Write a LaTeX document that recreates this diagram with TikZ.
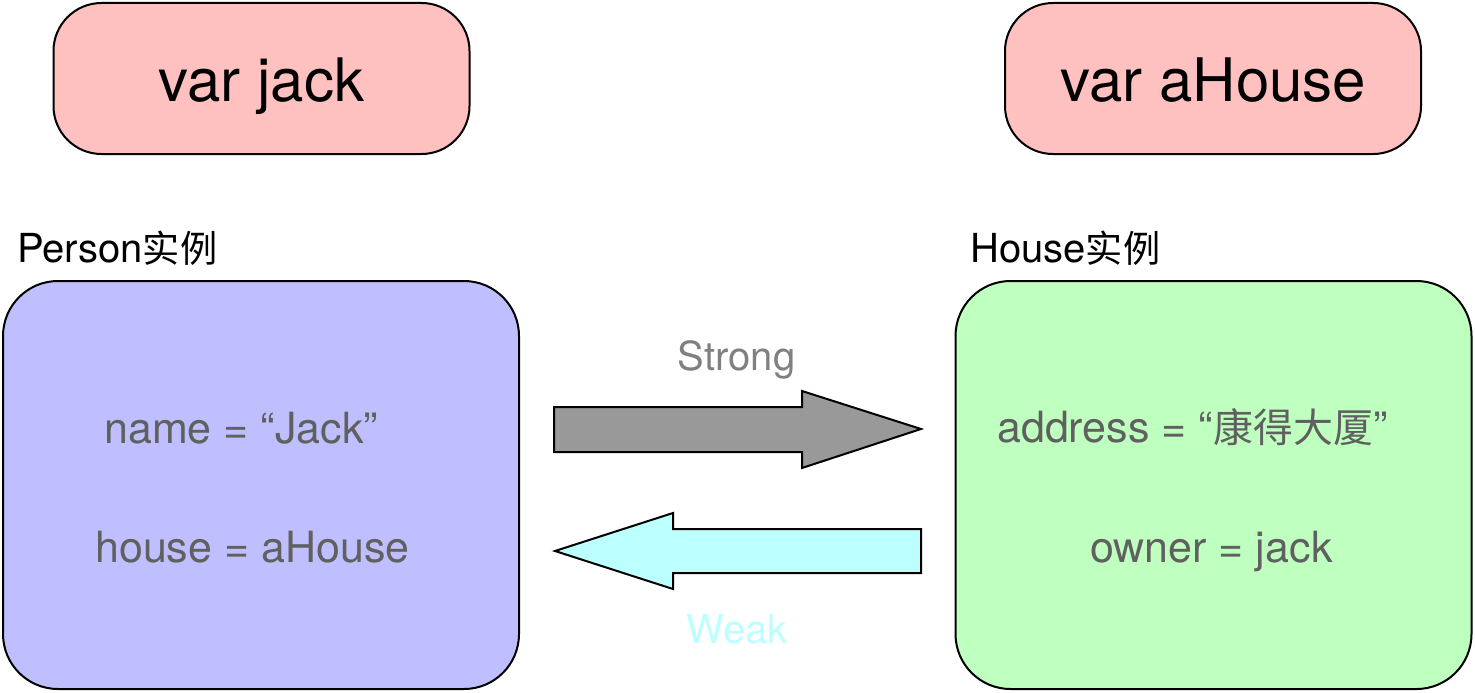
\documentclass[tikz,border=0pt]{standalone}
\usepackage{fontspec}
\setmainfont{TeX Gyre Heros}
\newfontfamily\cjk[Scale=0.93]{Noto Sans CJK SC}
\usetikzlibrary{positioning}
\definecolor{varpink}{RGB}{255,192,192}
\definecolor{personblue}{RGB}{191,191,255}
\definecolor{housegreen}{RGB}{191,255,191}
\definecolor{stronggray}{RGB}{153,153,153}
\definecolor{weakcyan}{RGB}{187,255,255}
\definecolor{fieldgray}{RGB}{96,96,96}
\definecolor{labelgray}{RGB}{128,128,128}
\tikzset{
  box/.style={draw,line width=2pt,inner sep=0pt},
  varbox/.style={box,fill=varpink,rounded corners=48pt,minimum width=416pt,minimum height=151pt},
  objbox/.style={box,rounded corners=55pt,minimum width=516pt,minimum height=408pt},
  field/.style={anchor=base west,inner sep=0pt,text=fieldgray,font=\fontsize{43}{48}\selectfont}
}
\begin{document}
\begin{tikzpicture}[x=1pt,y=-1pt]
\useasboundingbox (0,0) rectangle (1475,693);
\node[varbox] (jackvar) at (261.5,78.5) {};
\node[anchor=base,font=\fontsize{60}{66}\selectfont] (jacktext) at (261.5,101) {var jack};
\node[varbox] (housevar) at (1213,78.5) {};
\node[anchor=base,font=\fontsize{60}{66}\selectfont] (housetext) at (1213.5,101) {var aHouse};
\node[anchor=base west,inner sep=0pt,font=\fontsize{40}{46}\selectfont] (persontitle) at (17,262) {Person{\cjk 实例}};
\node[anchor=base west,inner sep=0pt,font=\fontsize{40}{46}\selectfont] (housetitle) at (970,262) {House{\cjk 实例}};
\node[objbox,fill=personblue] (person) at (261,485) {};
\node[objbox,fill=housegreen] (house) at (1213.5,485) {};
\node[field] (pname) at (104,443) {name = “Jack”};
\node[field] (phouse) at (95,562) {house = aHouse};
\node[field] (haddr) at (997,442) {address = “{\cjk 康得大厦}”};
\node[field] (howner) at (1090,562) {owner = jack};
\draw[line width=2pt,fill=stronggray] (554,407) -- (802,407) -- (802,391) -- (921,429) -- (802,468) -- (802,452) -- (554,452) -- cycle;
\draw[line width=2pt,fill=weakcyan] (921,529) -- (673,529) -- (673,513) -- (555,551) -- (673,589) -- (673,573) -- (921,573) -- cycle;
\node[anchor=base,text=labelgray,font=\fontsize{40}{46}\selectfont] (strong) at (736.5,370) {Strong};
\node[anchor=base,text=weakcyan,font=\fontsize{40}{46}\selectfont] (weak) at (737,643) {Weak};
\end{tikzpicture}
\end{document}
